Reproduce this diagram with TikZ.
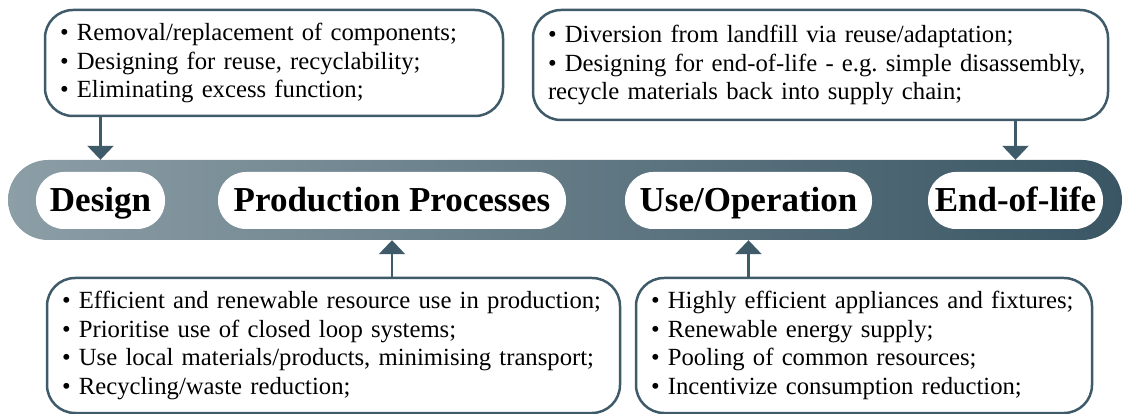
\documentclass[tikz,border=0pt]{standalone}
\usepackage{fontspec}
\setmainfont{Liberation Serif}
\usetikzlibrary{arrows.meta}
\frenchspacing

\definecolor{slate}{RGB}{63,91,105}
\definecolor{bandleft}{RGB}{140,158,166}
\definecolor{bandright}{RGB}{58,86,100}

\tikzset{
  band/.style={rounded corners=40pt, left color=bandleft, right color=bandright, minimum height=80pt, inner sep=0pt},
  pill/.style={rounded corners=28pt, fill=white, minimum height=57pt, inner sep=0pt, text height=30pt, text depth=7pt,
               font=\fontsize{35}{38}\selectfont\bfseries},
  infobox/.style={draw=slate, line width=2.5pt, rounded corners=28pt, fill=white, align=left, inner xsep=15pt,
                  font=\fontsize{24.7}{28.5}\selectfont},
  arr/.style={slate, line width=2.5pt, -{Triangle[width=26pt,length=14pt]}}
}

\begin{document}
\begin{tikzpicture}[x=1pt, y=-1pt]

  \clip (0,0) rectangle (1133,414);

	%draw band
    \node[band, minimum width=1114pt] (band) at (565,200) {};

    \foreach \x/\w/\txt/\name in {100.5/129/Design/design, 392/348/Production Processes/prod,
                                  748.5/247/Use\slash Operation/use, 1015.5/175/End-of-life/eol}{
           \node[pill, minimum width=\w pt] (\name) at (\x,200.5) {\txt};
    }

	%boxes
    \node[infobox, minimum width=458pt, minimum height=106pt, text width=428pt] (tl) at (274,63)
       {\textbullet\ Removal/replacement of components;\\
        \textbullet\ Designing for reuse, recyclability;\\
        \textbullet\ Eliminating excess function;};

    \node[infobox, minimum width=575pt, minimum height=110pt, text width=545pt] (tr) at (820.5,65)
       {\textbullet\ Diversion from landfill via reuse/adaptation;\\
        \textbullet\ Designing for end-of-life - e.g. simple disassembly,\\
        recycle materials back into supply chain;};

    \node[infobox, minimum width=573pt, minimum height=135pt, text width=543pt] (bl) at (333.5,345.5)
       {\textbullet\ Efficient and renewable resource use in production;\\
        \textbullet\ Prioritise use of closed loop systems;\\
        \textbullet\ Use local materials/products, minimising transport;\\
        \textbullet\ Recycling/waste reduction;};

    \node[infobox, minimum width=456pt, minimum height=135pt, text width=426pt] (br) at (864,345.5)
       {\textbullet\ Highly efficient appliances and fixtures;\\
        \textbullet\ Renewable energy supply;\\
        \textbullet\ Pooling of common resources;\\
        \textbullet\ Incentivize consumption reduction;};

	%arrows
    \draw[arr] (tl.south -| design) -- (band.north -| design);
    \draw[arr] (tr.south -| eol) -- (band.north -| eol);
    \draw[arr] (bl.north -| prod) -- (band.south -| prod);
    \draw[arr] (br.north -| use) -- (band.south -| use);

\end{tikzpicture}
\end{document}
